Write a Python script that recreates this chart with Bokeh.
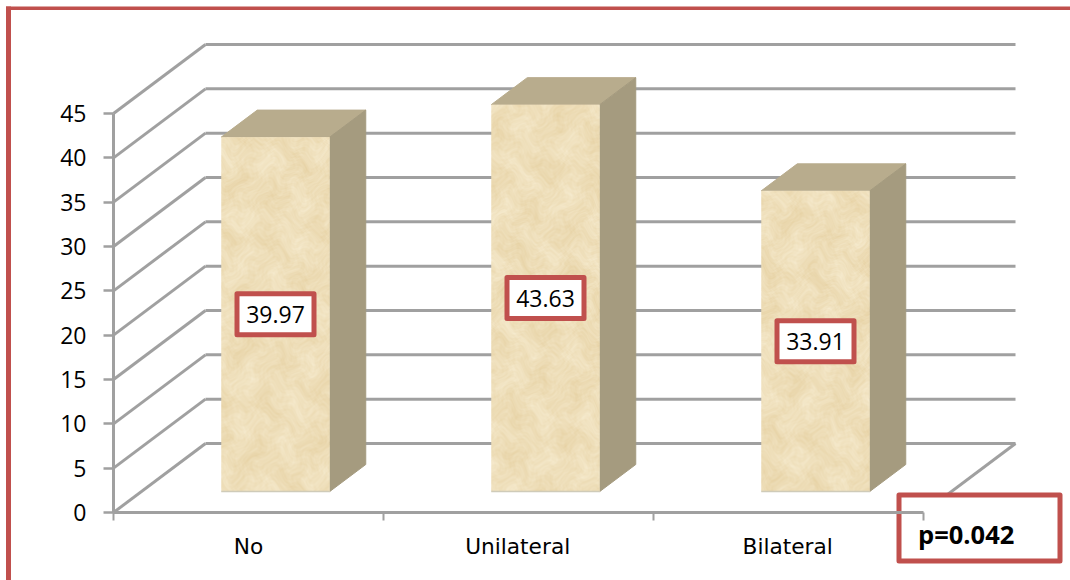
import numpy as np
from bokeh.core.properties import value
from bokeh.embed import file_html
from bokeh.models import FixedTicker, Range1d
from bokeh.plotting import figure
from bokeh.resources import INLINE

# Chart data
categories = ["No", "Unilateral", "Bilateral"]
means = [39.97, 43.63, 33.91]
y_ticks = [0, 5, 10, 15, 20, 25, 30, 35, 40, 45]
p_label = "p=0.042"

# Pixel scale of the plot frame
PX_X = 270.0          # pixels per category slot
PX_Y = 399.0 / 45.0   # pixels per unit of value
LEFT, BASE_PX = 113, 512
W, H = 1070, 580


def dx(px):
    """Page pixel column to category coordinate."""
    return (px - LEFT) / PX_X


def dy(px):
    """Page pixel row to value coordinate."""
    return (BASE_PX - px) / PX_Y


# Depth of the 3-D box, in data units
WALL_DX, WALL_DY = 92 / PX_X, 69 / PX_Y
BAR_DX, BAR_DY = 36 / PX_X, 27 / PX_Y
BAR_BASE = 21 / PX_Y
BAR_SHIFT = 0.60
BAR_W = 108.5 / PX_X

RED = "#C0504D"
GRID = "#A0A0A0"
TEXT = "#000000"
TICK_FONT = "Open Sans"
CAT_FONT = "DejaVu Sans"


def stone_texture(h, w, phase):
    """Mottled sandstone RGBA surface built from warped sine waves."""
    yy, xx = np.mgrid[0:h, 0:w].astype(float)
    wx = xx + 9 * np.sin(yy * 0.071 + phase) + 5 * np.sin(yy * 0.19 + xx * 0.08)
    wy = yy + 9 * np.sin(xx * 0.083 + 1.7 * phase) + 5 * np.sin(xx * 0.23 - yy * 0.06)
    n = (np.sin(wx * 0.093 + wy * 0.041 + phase) * np.sin(wy * 0.077 - wx * 0.029)
         + 0.6 * np.sin(wx * 0.27 - wy * 0.19 + 2.1 * phase) * np.sin(wy * 0.31 + wx * 0.13)
         + 0.5 * np.sin(wx * 0.61 + wy * 0.47 + phase) * np.sin(wy * 0.71 - wx * 0.37)
         + 0.4 * np.sin(wx * 1.13 - wy * 0.93) * np.sin(wy * 1.27 + wx * 0.83 + phase))
    n = n / np.abs(n).max()
    rgba = np.empty((h, w, 4), dtype=np.uint8)
    rgba[..., 0] = np.clip(239 + 8 * n, 0, 255)
    rgba[..., 1] = np.clip(223 + 13 * n, 0, 255)
    rgba[..., 2] = np.clip(186 + 22 * n, 0, 255)
    rgba[..., 3] = 255
    return rgba.view(dtype=np.uint32).reshape((h, w))


# The frame fills the page; both axes are pinned inside it at their zero lines
p = figure(
    width=W, height=H, output_backend="svg", toolbar_location=None,
    x_range=Range1d(dx(0), dx(W)), y_range=Range1d(dy(H), dy(0)),
    min_border=0, outline_line_color=None,
    background_fill_color="white", border_fill_color="white",
)
p.grid.visible = False

# Value axis
ya = p.yaxis[0]
ya.fixed_location = 0
ya.ticker = FixedTicker(ticks=y_ticks)
ya.bounds = (0, 45)
ya.axis_line_color = GRID
ya.axis_line_width = 3
ya.major_tick_line_color = GRID
ya.major_tick_line_width = 2.5
ya.major_tick_in = 0
ya.major_tick_out = 10
ya.minor_tick_line_color = None
ya.major_label_text_font = TICK_FONT
ya.major_label_text_font_size = "23px"
ya.major_label_text_color = TEXT
ya.major_label_standoff = 17

# Category axis: labels sit mid-slot, tick marks fall between slots
label_pos = [0.5, 1.497, 2.497]
xa = p.xaxis[0]
xa.fixed_location = 0
xa.ticker = FixedTicker(ticks=label_pos, minor_ticks=[0, 1, 2, 3])
xa.major_label_overrides = dict(zip(label_pos, categories))
xa.bounds = (0, 3)
xa.axis_line_color = GRID
xa.axis_line_width = 3
xa.major_tick_line_color = None
xa.minor_tick_line_color = GRID
xa.minor_tick_line_width = 2
xa.minor_tick_in = 0
xa.minor_tick_out = 8
xa.major_label_text_font = CAT_FONT
xa.major_label_text_font_size = "21.7px"
xa.major_label_text_color = TEXT
xa.major_label_standoff = 13
xa.major_tick_out = 8

# Back wall, left wall and floor edge
n = len(y_ticks)
wall_levels = np.array(y_ticks, dtype=float)
p.segment(x0=[WALL_DX] * n, x1=[3 + WALL_DX] * n, y0=wall_levels + WALL_DY, y1=wall_levels + WALL_DY,
          line_color=GRID, line_width=3)
p.segment(x0=[0] * n, x1=[WALL_DX] * n, y0=wall_levels, y1=wall_levels + WALL_DY,
          line_color=GRID, line_width=3)
p.segment(x0=[3], x1=[3 + WALL_DX], y0=[0], y1=[WALL_DY], line_color=GRID, line_width=3)

# Bars: top and side faces, then the textured front
for i, v in enumerate(means):
    x0 = i + BAR_SHIFT - BAR_W / 2
    x1 = x0 + BAR_W
    y0 = BAR_BASE
    y1 = y0 + v
    p.patch([x0, x1, x1 + BAR_DX, x0 + BAR_DX], [y1, y1, y1 + BAR_DY, y1 + BAR_DY],
            fill_color="#B8AC8D", line_color="#B8AC8D", line_width=1)
    p.patch([x1, x1 + BAR_DX, x1 + BAR_DX, x1], [y0, y0 + BAR_DY, y1 + BAR_DY, y1],
            fill_color="#A59B7F", line_color="#A59B7F", line_width=1)
    p.image_rgba(image=[stone_texture(int(v * PX_Y), 108, i * 1.7 + 0.4)],
                 x=[x0], y=[y0], dw=[BAR_W], dh=[v])
    p.segment(x0=[x0], x1=[x1], y0=[y0], y1=[y0], line_color="#CFCBB9", line_width=1.5)

# Value boxes centred on each bar's front face
box_x = [i + BAR_SHIFT for i in range(3)]
box_y = [BAR_BASE + v / 2 for v in means]
p.rect(x=box_x, y=box_y, width=77 / PX_X, height=41 / PX_Y,
       fill_color="white", line_color=RED, line_width=5, line_join="round")
p.text(x=box_x, y=box_y, text=[f"{v:.2f}" for v in means],
       text_font=value(TICK_FONT), text_font_size="23px", text_color=TEXT,
       text_align="center", text_baseline="middle")

# Page frame, left and top edges
p.quad(left=[dx(5.5), dx(5.5)], right=[dx(10.5), dx(W)], top=[dy(6), dy(6)], bottom=[dy(H), dy(9.5)],
       fill_color=RED, line_color=None)

# P-value callout
p.quad(left=[dx(898.5)], right=[dx(1059.5)], top=[dy(494.5)], bottom=[dy(560.5)],
       fill_color="white", line_color=RED, line_width=5, line_join="round")
p.text(x=[dx(917.5)], y=[dy(533)], text=[p_label], text_font=value(TICK_FONT),
       text_font_size="25.5px", text_font_style="bold", text_color=TEXT,
       text_baseline="alphabetic")

open("out.html", "w").write(file_html(p, INLINE))
